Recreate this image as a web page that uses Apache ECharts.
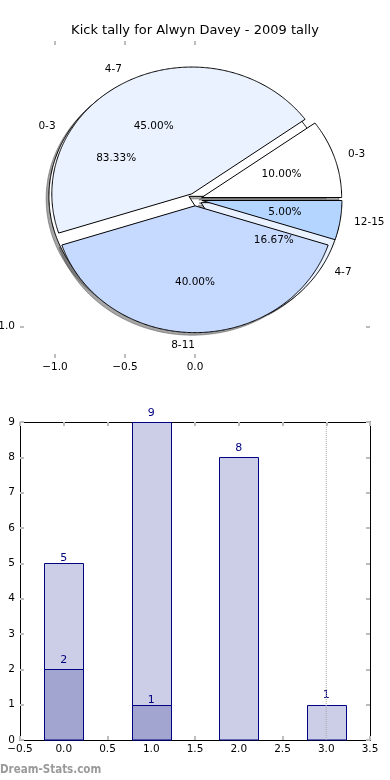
<!DOCTYPE html>
<html><head><meta charset="utf-8">
<script src="https://cdn.jsdelivr.net/npm/echarts@6/dist/echarts.min.js"></script>
<style>html,body{margin:0;padding:0;background:#fff}#c{width:390px;height:780px}</style>
</head><body><div id="c"></div>
<script>
// ---------- data ----------
const pieTitle = 'Kick tally for Alwyn Davey - 2009 tally';
const outerLabels = ['0-3', '4-7', '8-11', '12-15'];
const outerCounts = [2, 9, 8, 1];
const innerLabels = ['0-3', '4-7'];
const innerCounts = [5, 1];
const pieTickX = [-1, -0.5, 0];
const pieTickY = [-1];

const barX = [0, 1, 2, 3];
const barLightValues = [5, 9, 8, 1];
const barDarkX = [0, 1];
const barDarkValues = [2, 1];
const gridLineX = [3];
const watermark = 'Dream-Stats.com';

// ---------- styles ----------
const FONT = 'DejaVu Sans';
const catColor = {'0-3': '#ffffff', '4-7': '#ebf2ff', '8-11': '#c6d9ff', '12-15': '#b4d5ff'};
const EXPLODE = 0.05;
const TICK = {inside: true, length: 4, lineStyle: {color: '#bdbdbd', width: 2}};

function wedgeList(counts, labels) {
  const total = counts.reduce((a, b) => a + b, 0);
  let acc = 0;
  return counts.map((c, i) => {
    const t1 = acc / total * 2 * Math.PI; acc += c;
    const t2 = acc / total * 2 * Math.PI;
    return {t1, t2, label: labels[i], frac: c / total};
  });
}
const innerW = wedgeList(innerCounts, innerLabels);
const outerW = wedgeList(outerCounts, outerLabels);
const allW = innerW.concat(outerW);

function center(w) {
  const m = (w.t1 + w.t2) / 2;
  return [EXPLODE * Math.cos(m), EXPLODE * Math.sin(m), m];
}
function wedgePoints(api, w, dx, dy) {
  const [cx0, cy0] = center(w);
  const cx = cx0 + dx, cy = cy0 + dy;
  const pts = [api.coord([cx, cy])];
  const n = Math.max(2, Math.ceil((w.t2 - w.t1) / (Math.PI / 360)));
  for (let k = 0; k <= n; k++) {
    const t = w.t1 + (w.t2 - w.t1) * k / n;
    pts.push(api.coord([cx + Math.cos(t), cy + Math.sin(t)]));
  }
  return pts;
}
function idxData(arr) { return arr.map((_, i) => [i, 0]); }

const pieBase = {type: 'custom', coordinateSystem: 'cartesian2d', xAxisIndex: 0, yAxisIndex: 0, silent: true, animation: false, clip: false};
const barBase = {type: 'custom', coordinateSystem: 'cartesian2d', xAxisIndex: 2, yAxisIndex: 2, silent: true, animation: false, clip: false};

function fmtNum(v, d) { return (v < 0 ? '\u2212' : '') + Math.abs(v).toFixed(d); }

const labelLiftLight = [-1.5, 2.5, 2.5, 3.5];
const labelLiftDark = [2.5, -1.5];
function barItem(xs, vs, fill, lifts) {
  return function (params, api) {
    const i = params.dataIndex;
    const x = xs[i], v = vs[i];
    const p1 = api.coord([x - 0.225, v]);
    const p2 = api.coord([x + 0.225, 0]);
    const x1 = Math.round(p1[0]) + 0.5, x2 = Math.round(p2[0]) + 0.5;
    const y1 = Math.round(p1[1]) + 0.5, y2 = Math.round(p2[1]);
    const top = api.coord([x, v]);
    return {type: 'group', children: [
      {type: 'rect', shape: {x: x1, y: y1, width: x2 - x1, height: y2 - y1},
       style: {fill: fill, stroke: '#000080', lineWidth: 1}},
      {type: 'text', x: top[0], y: top[1] - 1 - lifts[i], z2: 10,
       style: {text: String(v), fill: '#000080', fontFamily: FONT, fontSize: 11, align: 'center', verticalAlign: 'bottom'}}
    ]};
  };
}

const option = {
  backgroundColor: '#fff',
  animation: false,
  title: {text: pieTitle, left: 'center', top: 24, padding: 0,
    textStyle: {fontFamily: FONT, fontSize: 13, fontWeight: 'normal', color: '#000'}},
  grid: [
    {left: 20, top: 41, width: 350, height: 317, outerBoundsMode: 'none', containLabel: false},
    {left: 20, top: 422, width: 350, height: 318, outerBoundsMode: 'none', containLabel: false}
  ],
  xAxis: [
    {type: 'value', gridIndex: 0, position: 'bottom', min: -1.25, max: 1.25,
     axisLine: {show: false, onZero: false}, splitLine: {show: false},
     axisTick: Object.assign({customValues: pieTickX}, TICK),
     axisLabel: {customValues: pieTickX, formatter: v => fmtNum(v, 1), margin: 4, color: '#000', fontFamily: FONT, fontSize: 10.5}},
    {type: 'value', gridIndex: 0, position: 'top', min: -1.25, max: 1.25,
     axisLine: {show: false, onZero: false}, splitLine: {show: false},
     axisTick: Object.assign({customValues: pieTickX}, TICK), axisLabel: {show: false}},
    {type: 'value', gridIndex: 1, position: 'bottom', min: -0.5, max: 3.5, interval: 0.5,
     axisLine: {show: true, onZero: false, lineStyle: {color: '#000', width: 1}}, splitLine: {show: false},
     axisTick: TICK,
     axisLabel: {formatter: v => fmtNum(v, 1), margin: 4, color: '#000', fontFamily: FONT, fontSize: 10.5, showMinLabel: true, showMaxLabel: true}},
    {type: 'value', gridIndex: 1, position: 'top', min: -0.5, max: 3.5, interval: 0.5,
     axisLine: {show: true, onZero: false, lineStyle: {color: '#000', width: 1}}, splitLine: {show: false},
     axisTick: TICK, axisLabel: {show: false}}
  ],
  yAxis: [
    {type: 'value', gridIndex: 0, position: 'left', min: -1.25, max: 1.25,
     axisLine: {show: false, onZero: false}, splitLine: {show: false},
     axisTick: Object.assign({customValues: pieTickY}, TICK),
     axisLabel: {customValues: pieTickY, formatter: v => fmtNum(v, 1), margin: 5, color: '#000', fontFamily: FONT, fontSize: 10.5}},
    {type: 'value', gridIndex: 0, position: 'right', min: -1.25, max: 1.25,
     axisLine: {show: false, onZero: false}, splitLine: {show: false},
     axisTick: Object.assign({customValues: pieTickY}, TICK), axisLabel: {show: false}},
    {type: 'value', gridIndex: 1, position: 'left', min: 0, max: 9, interval: 1,
     axisLine: {show: true, onZero: false, lineStyle: {color: '#000', width: 1}}, splitLine: {show: false},
     axisTick: TICK,
     axisLabel: {formatter: v => String(v), margin: 5, color: '#000', fontFamily: FONT, fontSize: 10.5, showMinLabel: true, showMaxLabel: true}},
    {type: 'value', gridIndex: 1, position: 'right', min: 0, max: 9, interval: 1,
     axisLine: {show: true, onZero: false, lineStyle: {color: '#000', width: 1}}, splitLine: {show: false},
     axisTick: TICK, axisLabel: {show: false}}
  ],
  graphic: [
    {type: 'text', left: 0, top: 764, style: {text: watermark, fill: '#9a9a9a', fontFamily: 'DejaVu Sans Condensed, DejaVu Sans', fontSize: 11.5, fontWeight: 'bold'}}
  ],
  series: [
    // shadows of every wedge
    Object.assign({}, pieBase, {z: 1, data: idxData(allW), renderItem: (params, api) => ({
      type: 'polygon', shape: {points: wedgePoints(api, allW[params.dataIndex], -0.02, -0.02)},
      style: {fill: 'rgba(77,77,77,0.5)', stroke: 'rgba(77,77,77,0.5)', lineWidth: 1}})}),
    // second (inner-data) pie, drawn first
    Object.assign({}, pieBase, {z: 2, data: idxData(innerW), renderItem: (params, api) => {
      const w = innerW[params.dataIndex];
      return {type: 'polygon', shape: {points: wedgePoints(api, w, 0, 0)},
        style: {fill: catColor[w.label], stroke: '#000', lineWidth: 1}};
    }}),
    // main pie
    Object.assign({}, pieBase, {z: 3, data: idxData(outerW), renderItem: (params, api) => {
      const w = outerW[params.dataIndex];
      return {type: 'polygon', shape: {points: wedgePoints(api, w, 0, 0)},
        style: {fill: catColor[w.label], stroke: '#000', lineWidth: 1}};
    }}),
    // labels for both pies
    Object.assign({}, pieBase, {z: 4, data: idxData(allW), renderItem: (params, api) => {
      const w = allW[params.dataIndex];
      const [cx, cy, m] = center(w);
      const lx = cx + 1.1 * Math.cos(m), ly = cy + 1.1 * Math.sin(m);
      const px = cx + 0.6 * Math.cos(m), py = cy + 0.6 * Math.sin(m);
      const lp = api.coord([lx, ly]), pp = api.coord([px, py]);
      return {type: 'group', children: [
        {type: 'text', x: lp[0], y: lp[1], style: {text: w.label, fill: '#000', fontFamily: FONT, fontSize: 10.5,
          align: lx > 0 ? 'left' : 'right', verticalAlign: 'middle'}},
        {type: 'text', x: pp[0], y: pp[1], style: {text: (w.frac * 100).toFixed(2) + '%', fill: '#000', fontFamily: FONT, fontSize: 10.5,
          align: 'center', verticalAlign: 'middle'}}
      ]};
    }}),
    // bars
    Object.assign({}, barBase, {z: 5, data: barX.map((x, i) => [x, barLightValues[i]]),
      renderItem: barItem(barX, barLightValues, '#cccde6', labelLiftLight)}),
    Object.assign({}, barBase, {z: 6, data: barDarkX.map((x, i) => [x, barDarkValues[i]]),
      renderItem: barItem(barDarkX, barDarkValues, '#a3a5d1', labelLiftDark)}),
    {type: 'line', xAxisIndex: 2, yAxisIndex: 2, z: 7, silent: true, animation: false, symbol: 'none',
     data: [[gridLineX[0], 0], [gridLineX[0], 9]],
     lineStyle: {type: 'dotted', color: '#a8a8a8', width: 1}}
  ]
};
const chart = echarts.init(document.getElementById('c'), null, {renderer: 'canvas'});
chart.setOption(option);
</script></body></html>
